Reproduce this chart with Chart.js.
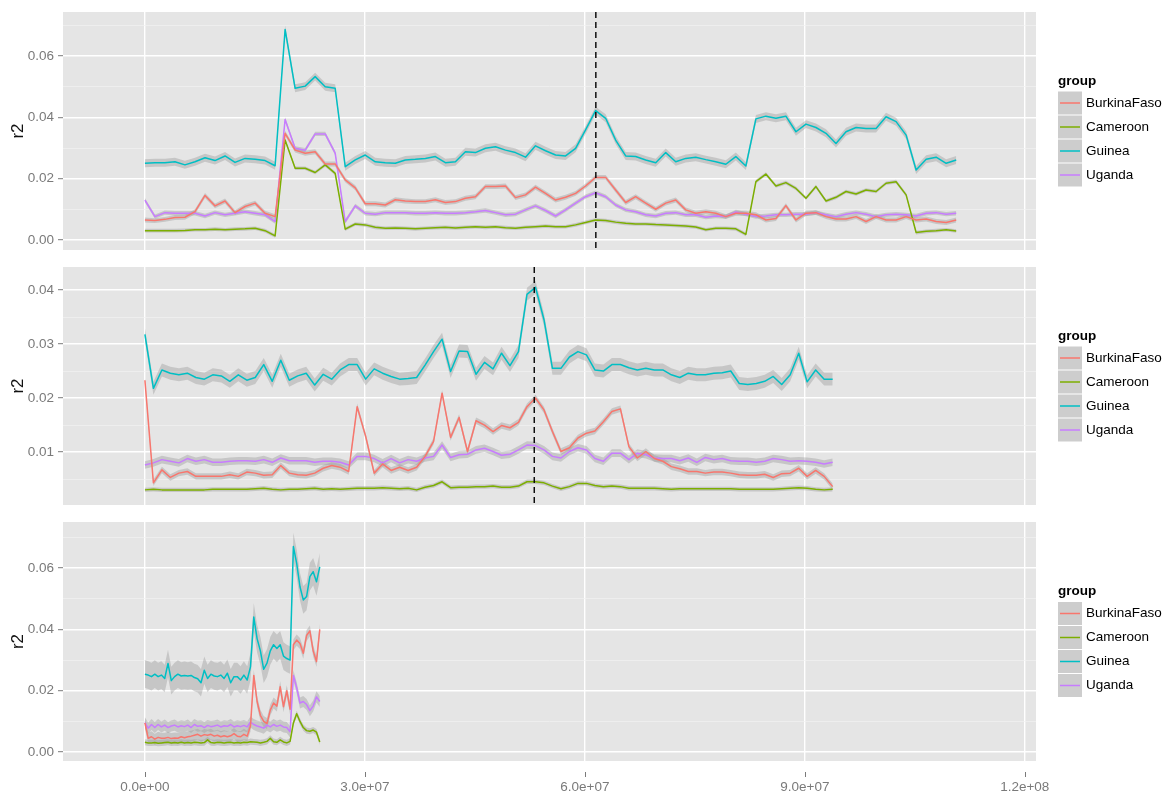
<!DOCTYPE html>
<html>
<head>
<meta charset="utf-8">
<script src="https://cdn.jsdelivr.net/npm/chart.js@4.4.1/dist/chart.umd.min.js"></script>
<style>
  html, body { margin: 0; padding: 0; background: #ffffff; width: 1168px; height: 793px; overflow: hidden; }
  canvas { position: absolute; left: 0; }
</style>
</head>
<body>
<canvas id="panelA" width="1168" height="258" style="top:0px;width:1168px;height:258px"></canvas>
<canvas id="panelB" width="1168" height="255" style="top:258px;width:1168px;height:255px"></canvas>
<canvas id="panelC" width="1168" height="280" style="top:513px;width:1168px;height:280px"></canvas>
<script>
// ---- groups ----
const GROUPS = ['BurkinaFaso', 'Cameroon', 'Guinea', 'Uganda'];
const GROUP_COLORS = ['#F8766D', '#7CAE00', '#00BFC4', '#C77CFF'];

// ---- axis ticks ----
const X_TICKS_MB = [0, 30, 60, 90, 120];            // genomic position, Mb
const Y_MAJOR_AC = [0, 0.02, 0.04, 0.06];
const Y_MINOR_AC = [0.01, 0.03, 0.05, 0.07];
const Y_MAJOR_B = [0.01, 0.02, 0.03, 0.04];
const Y_MINOR_B = [0.005, 0.015, 0.025, 0.035];

// ---- marked positions (Mb) ----
const MARKER_A = 61.5;
const MARKER_B = 53.1;

// ---- panel A: window positions (Mb) and r2 ----
const POS_A = [0, 1.37, 2.73, 4.10, 5.46, 6.83, 8.20, 9.56, 10.93, 12.29,
  13.66, 15.03, 16.39, 17.76, 19.12, 20.49, 21.86, 23.22, 24.59, 25.95,
  27.32, 28.69, 30.05, 31.42, 32.78, 34.15, 35.52, 36.88, 38.25, 39.61,
  40.98, 42.35, 43.71, 45.08, 46.44, 47.81, 49.18, 50.54, 51.91, 53.27,
  54.64, 56.01, 57.37, 58.74, 60.10, 61.47, 62.84, 64.20, 65.57, 66.93,
  68.30, 69.67, 71.03, 72.40, 73.76, 75.13, 76.50, 77.86, 79.23, 80.59,
  81.96, 83.33, 84.69, 86.06, 87.42, 88.79, 90.16, 91.52, 92.89, 94.25,
  95.62, 96.99, 98.35, 99.72, 101.08, 102.45, 103.82, 105.18, 106.55, 107.91,
  109.28, 110.65];
const A_BURKINA = [0.0065, 0.0063, 0.0067, 0.0073, 0.0074, 0.0092, 0.0145, 0.0111, 0.0127, 0.0089,
  0.0109, 0.0120, 0.0087, 0.0076, 0.0348, 0.0293, 0.0283, 0.0288, 0.0248, 0.0248,
  0.0196, 0.0170, 0.0118, 0.0118, 0.0114, 0.0131, 0.0127, 0.0125, 0.0125, 0.0131,
  0.0122, 0.0125, 0.0136, 0.0141, 0.0174, 0.0174, 0.0176, 0.0138, 0.0147, 0.0172,
  0.0152, 0.0130, 0.0139, 0.0152, 0.0176, 0.0204, 0.0204, 0.0163, 0.0122, 0.0141,
  0.0120, 0.0100, 0.0120, 0.0130, 0.0098, 0.0087, 0.0092, 0.0087, 0.0076, 0.0087,
  0.0087, 0.0082, 0.0065, 0.0070, 0.0112, 0.0065, 0.0087, 0.0089, 0.0076, 0.0068,
  0.0068, 0.0076, 0.0060, 0.0076, 0.0065, 0.0065, 0.0076, 0.0065, 0.0068, 0.0060,
  0.0057, 0.0065];
const A_CAMEROON = [0.0030, 0.0030, 0.0030, 0.0030, 0.0031, 0.0033, 0.0033, 0.0035, 0.0033, 0.0035,
  0.0036, 0.0038, 0.0030, 0.0013, 0.0326, 0.0234, 0.0234, 0.0220, 0.0245, 0.0217,
  0.0035, 0.0052, 0.0049, 0.0041, 0.0038, 0.0039, 0.0038, 0.0036, 0.0038, 0.0040,
  0.0041, 0.0039, 0.0041, 0.0043, 0.0041, 0.0043, 0.0040, 0.0038, 0.0041, 0.0043,
  0.0045, 0.0043, 0.0043, 0.0049, 0.0057, 0.0065, 0.0063, 0.0058, 0.0054, 0.0052,
  0.0052, 0.0050, 0.0049, 0.0047, 0.0045, 0.0042, 0.0033, 0.0038, 0.0038, 0.0036,
  0.0018, 0.0190, 0.0215, 0.0176, 0.0187, 0.0168, 0.0136, 0.0174, 0.0127, 0.0139,
  0.0158, 0.0150, 0.0163, 0.0158, 0.0185, 0.0190, 0.0147, 0.0024, 0.0028, 0.0030,
  0.0033, 0.0029];
const A_GUINEA = [0.0250, 0.0252, 0.0252, 0.0255, 0.0245, 0.0255, 0.0268, 0.0259, 0.0274, 0.0253,
  0.0266, 0.0263, 0.0259, 0.0242, 0.0687, 0.0495, 0.0502, 0.0533, 0.0500, 0.0495,
  0.0239, 0.0261, 0.0277, 0.0255, 0.0252, 0.0250, 0.0261, 0.0263, 0.0266, 0.0272,
  0.0252, 0.0255, 0.0288, 0.0285, 0.0299, 0.0304, 0.0293, 0.0285, 0.0270, 0.0307,
  0.0291, 0.0277, 0.0274, 0.0299, 0.0359, 0.0422, 0.0397, 0.0326, 0.0274, 0.0272,
  0.0261, 0.0252, 0.0285, 0.0255, 0.0266, 0.0270, 0.0262, 0.0255, 0.0247, 0.0272,
  0.0241, 0.0395, 0.0404, 0.0397, 0.0404, 0.0353, 0.0378, 0.0367, 0.0348, 0.0315,
  0.0353, 0.0367, 0.0364, 0.0364, 0.0402, 0.0386, 0.0342, 0.0228, 0.0263, 0.0270,
  0.0250, 0.0261];
const A_UGANDA = [0.0130, 0.0076, 0.0089, 0.0087, 0.0087, 0.0087, 0.0078, 0.0089, 0.0082, 0.0087,
  0.0092, 0.0087, 0.0082, 0.0060, 0.0393, 0.0299, 0.0293, 0.0346, 0.0346, 0.0283,
  0.0060, 0.0111, 0.0087, 0.0084, 0.0089, 0.0089, 0.0089, 0.0087, 0.0087, 0.0089,
  0.0087, 0.0087, 0.0089, 0.0092, 0.0096, 0.0089, 0.0082, 0.0084, 0.0098, 0.0111,
  0.0096, 0.0078, 0.0098, 0.0120, 0.0141, 0.0154, 0.0141, 0.0114, 0.0098, 0.0092,
  0.0082, 0.0078, 0.0087, 0.0089, 0.0082, 0.0082, 0.0074, 0.0078, 0.0076, 0.0091,
  0.0084, 0.0076, 0.0078, 0.0082, 0.0082, 0.0084, 0.0084, 0.0089, 0.0082, 0.0076,
  0.0084, 0.0089, 0.0084, 0.0076, 0.0082, 0.0084, 0.0082, 0.0078, 0.0087, 0.0089,
  0.0084, 0.0087];
const A_BAND = [0.0008, 0.0006, 0.0013, 0.0007];   // ribbon half-widths per group

// ---- panel B ----
const POS_B = [0, 1.16, 2.32, 3.47, 4.63, 5.79, 6.95, 8.11, 9.26, 10.42,
  11.58, 12.74, 13.90, 15.05, 16.21, 17.37, 18.53, 19.69, 20.84, 22.00,
  23.16, 24.32, 25.48, 26.63, 27.79, 28.95, 30.11, 31.27, 32.42, 33.58,
  34.74, 35.90, 37.06, 38.21, 39.37, 40.53, 41.69, 42.85, 44.00, 45.16,
  46.32, 47.48, 48.64, 49.79, 50.95, 52.11, 53.27, 54.43, 55.58, 56.74,
  57.90, 59.06, 60.22, 61.37, 62.53, 63.69, 64.85, 66.01, 67.16, 68.32,
  69.48, 70.64, 71.80, 72.95, 74.11, 75.27, 76.43, 77.59, 78.74, 79.90,
  81.06, 82.22, 83.38, 84.53, 85.69, 86.85, 88.01, 89.17, 90.32, 91.48,
  92.64, 93.80];
const B_BURKINA = [0.0233, 0.0043, 0.0067, 0.0053, 0.0061, 0.0064, 0.0055, 0.0055, 0.0055, 0.0055,
  0.0058, 0.0055, 0.0063, 0.0061, 0.0057, 0.0058, 0.0075, 0.0061, 0.0058, 0.0057,
  0.0061, 0.0070, 0.0075, 0.0072, 0.0064, 0.0184, 0.0129, 0.0061, 0.0078, 0.0066,
  0.0072, 0.0066, 0.0072, 0.0092, 0.0120, 0.0209, 0.0127, 0.0164, 0.0101, 0.0158,
  0.0150, 0.0138, 0.0149, 0.0145, 0.0155, 0.0184, 0.0200, 0.0178, 0.0138, 0.0101,
  0.0108, 0.0126, 0.0135, 0.0139, 0.0156, 0.0175, 0.0180, 0.0110, 0.0089, 0.0101,
  0.0088, 0.0083, 0.0073, 0.0069, 0.0064, 0.0064, 0.0061, 0.0063, 0.0063, 0.0061,
  0.0058, 0.0057, 0.0057, 0.0059, 0.0053, 0.0060, 0.0061, 0.0070, 0.0055, 0.0066,
  0.0055, 0.0036];
const B_CAMEROON = [0.0030, 0.0031, 0.0030, 0.0030, 0.0030, 0.0030, 0.0030, 0.0030, 0.0031, 0.0031,
  0.0031, 0.0031, 0.0031, 0.0032, 0.0033, 0.0031, 0.0030, 0.0031, 0.0031, 0.0032,
  0.0033, 0.0031, 0.0032, 0.0031, 0.0032, 0.0033, 0.0033, 0.0033, 0.0034, 0.0033,
  0.0032, 0.0033, 0.0030, 0.0035, 0.0038, 0.0045, 0.0034, 0.0035, 0.0035, 0.0036,
  0.0036, 0.0037, 0.0035, 0.0035, 0.0037, 0.0045, 0.0045, 0.0043, 0.0037, 0.0032,
  0.0036, 0.0042, 0.0042, 0.0038, 0.0036, 0.0037, 0.0036, 0.0033, 0.0033, 0.0033,
  0.0033, 0.0032, 0.0031, 0.0032, 0.0032, 0.0032, 0.0032, 0.0032, 0.0032, 0.0032,
  0.0031, 0.0031, 0.0031, 0.0031, 0.0031, 0.0032, 0.0033, 0.0034, 0.0033, 0.0031,
  0.0030, 0.0031];
const B_GUINEA = [0.0318, 0.0218, 0.0252, 0.0246, 0.0243, 0.0246, 0.0238, 0.0235, 0.0243, 0.0241,
  0.0231, 0.0243, 0.0233, 0.0238, 0.0262, 0.0231, 0.0270, 0.0233, 0.0241, 0.0246,
  0.0224, 0.0244, 0.0235, 0.0252, 0.0262, 0.0262, 0.0235, 0.0254, 0.0246, 0.0240,
  0.0235, 0.0236, 0.0238, 0.0261, 0.0286, 0.0309, 0.0249, 0.0287, 0.0286, 0.0244,
  0.0266, 0.0254, 0.0283, 0.0260, 0.0286, 0.0392, 0.0405, 0.0345, 0.0255, 0.0255,
  0.0276, 0.0286, 0.0280, 0.0252, 0.0250, 0.0262, 0.0262, 0.0256, 0.0252, 0.0255,
  0.0252, 0.0252, 0.0243, 0.0238, 0.0246, 0.0243, 0.0243, 0.0246, 0.0247, 0.0250,
  0.0227, 0.0225, 0.0227, 0.0231, 0.0240, 0.0225, 0.0243, 0.0283, 0.0230, 0.0252,
  0.0235, 0.0235];
const B_UGANDA = [0.0076, 0.0080, 0.0086, 0.0083, 0.0080, 0.0088, 0.0083, 0.0086, 0.0081, 0.0081,
  0.0083, 0.0084, 0.0084, 0.0083, 0.0086, 0.0081, 0.0089, 0.0084, 0.0084, 0.0084,
  0.0081, 0.0083, 0.0083, 0.0081, 0.0076, 0.0092, 0.0092, 0.0088, 0.0080, 0.0088,
  0.0080, 0.0086, 0.0083, 0.0089, 0.0092, 0.0113, 0.0090, 0.0095, 0.0096, 0.0104,
  0.0107, 0.0101, 0.0094, 0.0096, 0.0104, 0.0113, 0.0112, 0.0104, 0.0092, 0.0089,
  0.0101, 0.0108, 0.0104, 0.0088, 0.0083, 0.0098, 0.0098, 0.0086, 0.0098, 0.0095,
  0.0089, 0.0088, 0.0088, 0.0084, 0.0089, 0.0081, 0.0090, 0.0086, 0.0088, 0.0084,
  0.0083, 0.0083, 0.0081, 0.0083, 0.0088, 0.0086, 0.0083, 0.0084, 0.0083, 0.0081,
  0.0078, 0.0081];
const B_BAND = [0.0006, 0.0004, 0.0012, 0.0007];

// ---- panel C ----
const POS_C = [0, 0.45, 0.90, 1.35, 1.80, 2.25, 2.70, 3.15, 3.60, 4.05,
  4.50, 4.95, 5.40, 5.85, 6.30, 6.75, 7.20, 7.65, 8.10, 8.55,
  9.00, 9.45, 9.90, 10.35, 10.80, 11.25, 11.70, 12.15, 12.60, 13.05,
  13.50, 13.95, 14.40, 14.85, 15.30, 15.75, 16.20, 16.65, 17.10, 17.55,
  18.00, 18.45, 18.90, 19.35, 19.80, 20.25, 20.70, 21.15, 21.60, 22.05,
  22.50, 22.95, 23.40, 23.85];
const C_BURKINA = [0.0095, 0.0045, 0.0050, 0.0042, 0.0048, 0.0045, 0.0045, 0.0048, 0.0044, 0.0046,
  0.0045, 0.0050, 0.0047, 0.0050, 0.0052, 0.0055, 0.0058, 0.0052, 0.0057, 0.0055,
  0.0058, 0.0052, 0.0055, 0.0050, 0.0053, 0.0050, 0.0053, 0.0060, 0.0052, 0.0050,
  0.0058, 0.0052, 0.0085, 0.0250, 0.0165, 0.0120, 0.0100, 0.0093, 0.0137, 0.0160,
  0.0150, 0.0213, 0.0148, 0.0200, 0.0140, 0.0350, 0.0365, 0.0354, 0.0322, 0.0380,
  0.0395, 0.0330, 0.0295, 0.0400];
const C_CAMEROON = [0.0032, 0.0030, 0.0030, 0.0031, 0.0029, 0.0030, 0.0031, 0.0032, 0.0030, 0.0031,
  0.0030, 0.0032, 0.0030, 0.0031, 0.0030, 0.0032, 0.0031, 0.0030, 0.0031, 0.0040,
  0.0031, 0.0030, 0.0032, 0.0031, 0.0030, 0.0031, 0.0032, 0.0030, 0.0031, 0.0030,
  0.0032, 0.0031, 0.0034, 0.0033, 0.0032, 0.0030, 0.0032, 0.0035, 0.0045, 0.0034,
  0.0032, 0.0040, 0.0033, 0.0030, 0.0035, 0.0095, 0.0125, 0.0100, 0.0080, 0.0070,
  0.0068, 0.0072, 0.0065, 0.0033];
const C_GUINEA = [0.0254, 0.0251, 0.0246, 0.0254, 0.0246, 0.0251, 0.0240, 0.0289, 0.0233, 0.0246,
  0.0254, 0.0248, 0.0250, 0.0248, 0.0250, 0.0243, 0.0239, 0.0226, 0.0267, 0.0240,
  0.0254, 0.0248, 0.0246, 0.0251, 0.0240, 0.0257, 0.0226, 0.0246, 0.0246, 0.0235,
  0.0251, 0.0235, 0.0278, 0.0440, 0.0370, 0.0330, 0.0270, 0.0290, 0.0330, 0.0350,
  0.0338, 0.0350, 0.0313, 0.0305, 0.0300, 0.0670, 0.0615, 0.0539, 0.0496, 0.0507,
  0.0572, 0.0588, 0.0555, 0.0604];
const C_UGANDA = [0.0096, 0.0078, 0.0090, 0.0080, 0.0090, 0.0082, 0.0088, 0.0080, 0.0085, 0.0088,
  0.0082, 0.0086, 0.0083, 0.0088, 0.0080, 0.0090, 0.0084, 0.0086, 0.0080, 0.0087,
  0.0083, 0.0085, 0.0088, 0.0082, 0.0086, 0.0084, 0.0090, 0.0082, 0.0086, 0.0083,
  0.0087, 0.0082, 0.0098, 0.0090, 0.0085, 0.0082, 0.0078, 0.0088, 0.0082, 0.0090,
  0.0084, 0.0088, 0.0082, 0.0080, 0.0066, 0.0250, 0.0210, 0.0160, 0.0165, 0.0155,
  0.0135, 0.0150, 0.0180, 0.0165];
const C_BAND = [0.0018, 0.0010, 0.0045, 0.0018];

// ---- styling ----
const FONT = '"Liberation Sans", Arial, Helvetica, sans-serif';
const PANEL_BG = '#E5E5E5';
const GRID_MAJOR = '#FFFFFF';
const GRID_MINOR = '#F2F2F2';
const AXIS_GREY = '#7A7A7A';
const RIBBON_FILL = 'rgba(153,153,153,0.4)';
const KEY_FILL = '#CDCDCD';

Chart.defaults.font.family = FONT;

const near = (list, v) => list.some(m => Math.abs(m - v) < 1e-9);

function sciLabel(mb) {
  const raw = mb * 1e6;
  if (raw === 0) return '0.0e+00';
  const exp = Math.floor(Math.log10(Math.abs(raw)) + 1e-9);
  const mant = raw / Math.pow(10, exp);
  return mant.toFixed(1) + 'e' + (exp < 0 ? '-' : '+') + String(Math.abs(exp)).padStart(2, '0');
}

// panel background, marker line, y title, legend, x tick marks
const panelDecor = {
  id: 'panelDecor',
  beforeDraw(chart) {
    const { ctx, chartArea: a } = chart;
    ctx.save();
    ctx.fillStyle = PANEL_BG;
    ctx.fillRect(a.left, a.top, a.right - a.left, a.bottom - a.top);
    ctx.restore();
  },
  afterDatasetsDraw(chart, args, opts) {
    if (opts.marker == null) return;
    const { ctx, chartArea: a } = chart;
    const x = chart.scales.x.getPixelForValue(opts.marker);
    ctx.save();
    ctx.strokeStyle = '#000000';
    ctx.lineWidth = 1.4;
    ctx.setLineDash([6, 4]);
    ctx.beginPath();
    ctx.moveTo(x, a.top);
    ctx.lineTo(x, a.bottom);
    ctx.stroke();
    ctx.restore();
  },
  afterDraw(chart, args, opts) {
    const { ctx, chartArea: a } = chart;
    const cy = (a.top + a.bottom) / 2;
    ctx.save();
    // y axis title
    ctx.translate(18, cy);
    ctx.rotate(-Math.PI / 2);
    ctx.fillStyle = '#111111';
    ctx.font = '17px ' + FONT;
    ctx.textAlign = 'center';
    ctx.textBaseline = 'middle';
    ctx.fillText('r2', 0, 0);
    ctx.restore();

    // legend
    ctx.save();
    const lx = a.right + 22;
    ctx.textBaseline = 'middle';
    ctx.textAlign = 'left';
    ctx.fillStyle = '#000000';
    ctx.font = 'bold 13.5px ' + FONT;
    ctx.fillText('group', lx, cy - 50);
    GROUPS.forEach((g, k) => {
      const yc = cy - 28 + 24 * k;
      ctx.fillStyle = KEY_FILL;
      ctx.fillRect(lx, yc - 11.5, 24, 23);
      ctx.strokeStyle = GROUP_COLORS[k];
      ctx.lineWidth = 1.5;
      ctx.beginPath();
      ctx.moveTo(lx + 2, yc);
      ctx.lineTo(lx + 22, yc);
      ctx.stroke();
      ctx.fillStyle = '#000000';
      ctx.font = '13.5px ' + FONT;
      ctx.fillText(g, lx + 28, yc);
    });
    ctx.restore();

    // x tick marks, set slightly below the panel
    if (opts.xTickMarks) {
      const sx = chart.scales.x;
      ctx.save();
      ctx.strokeStyle = AXIS_GREY;
      ctx.lineWidth = 1;
      sx.ticks.forEach(t => {
        const x = Math.round(sx.getPixelForValue(t.value)) + 0.5;
        ctx.beginPath();
        ctx.moveTo(x, a.bottom + 11);
        ctx.lineTo(x, a.bottom + 16);
        ctx.stroke();
      });
      ctx.restore();
    }
  }
};

function buildDatasets(pos, series, band) {
  const ribbons = [];
  const lines = [];
  series.forEach((vals, k) => {
    const hw = band[k];
    ribbons.push({
      label: GROUPS[k] + ' upper',
      data: pos.map((x, i) => ({ x, y: vals[i] + hw })),
      borderColor: 'rgba(0,0,0,0)', borderWidth: 0, pointRadius: 0,
      fill: false, order: 2
    });
    ribbons.push({
      label: GROUPS[k] + ' lower',
      data: pos.map((x, i) => ({ x, y: vals[i] - hw })),
      borderColor: 'rgba(0,0,0,0)', borderWidth: 0, pointRadius: 0,
      fill: '-1', backgroundColor: RIBBON_FILL, order: 2
    });
    lines.push({
      label: GROUPS[k],
      data: pos.map((x, i) => ({ x, y: vals[i] })),
      borderColor: GROUP_COLORS[k], borderWidth: 1.5, pointRadius: 0,
      borderJoinStyle: 'round', fill: false, tension: 0, order: 1
    });
  });
  return ribbons.concat(lines);
}

function makePanel(id, cfg) {
  const yTicks = cfg.yMajor.concat(cfg.yMinor).filter(v => v >= cfg.yMin && v <= cfg.yMax).sort((p, q) => p - q);
  return new Chart(document.getElementById(id), {
    type: 'line',
    data: { datasets: buildDatasets(cfg.pos, cfg.series, cfg.band) },
    plugins: [panelDecor],
    options: {
      responsive: false,
      animation: false,
      events: [],
      layout: { padding: { top: cfg.padTop, bottom: cfg.padBottom, left: 0, right: 132 } },
      plugins: {
        legend: { display: false },
        tooltip: { enabled: false },
        panelDecor: { marker: cfg.marker, xTickMarks: cfg.showX }
      },
      scales: {
        x: {
          type: 'linear',
          min: -11.17,
          max: 121.53,
          afterBuildTicks: s => { s.ticks = X_TICKS_MB.map(v => ({ value: v })); },
          afterFit: s => { s.height = cfg.showX ? cfg.xAxisHeight : 0; s.paddingLeft = 0; s.paddingRight = 0; },
          border: { display: false },
          grid: { color: GRID_MAJOR, lineWidth: 1.4, drawTicks: false },
          ticks: {
            display: cfg.showX,
            padding: 18,
            color: AXIS_GREY,
            font: { size: 13.5 },
            maxRotation: 0,
            autoSkip: false,
            callback: v => sciLabel(v)
          }
        },
        y: {
          type: 'linear',
          min: cfg.yMin,
          max: cfg.yMax,
          afterBuildTicks: s => { s.ticks = yTicks.map(v => ({ value: v })); },
          afterFit: s => { s.width = 63; s.paddingTop = 0; s.paddingBottom = 0; },
          border: { display: false },
          grid: {
            color: c => near(cfg.yMajor, c.tick.value) ? GRID_MAJOR : GRID_MINOR,
            lineWidth: c => near(cfg.yMajor, c.tick.value) ? 1.4 : 0.7,
            tickColor: c => near(cfg.yMajor, c.tick.value) ? AXIS_GREY : 'rgba(0,0,0,0)',
            tickLength: 5,
            tickWidth: 1
          },
          ticks: {
            padding: 4,
            color: AXIS_GREY,
            font: { size: 13.5 },
            autoSkip: false,
            callback: v => near(cfg.yMajor, v) ? v.toFixed(2) : ''
          }
        }
      }
    }
  });
}

makePanel('panelA', {
  pos: POS_A, series: [A_BURKINA, A_CAMEROON, A_GUINEA, A_UGANDA], band: A_BAND,
  yMin: -0.0033, yMax: 0.0744, yMajor: Y_MAJOR_AC, yMinor: Y_MINOR_AC,
  marker: MARKER_A, showX: false, padTop: 12, padBottom: 8, xAxisHeight: 0
});
makePanel('panelB', {
  pos: POS_B, series: [B_BURKINA, B_CAMEROON, B_GUINEA, B_UGANDA], band: B_BAND,
  yMin: 0.0002, yMax: 0.04426, yMajor: Y_MAJOR_B, yMinor: Y_MINOR_B,
  marker: MARKER_B, showX: false, padTop: 9, padBottom: 8, xAxisHeight: 0
});
makePanel('panelC', {
  pos: POS_C, series: [C_BURKINA, C_CAMEROON, C_GUINEA, C_UGANDA], band: C_BAND,
  yMin: -0.0029, yMax: 0.0750, yMajor: Y_MAJOR_AC, yMinor: Y_MINOR_AC,
  marker: null, showX: true, padTop: 9, padBottom: 0, xAxisHeight: 32
});
</script>
</body>
</html>
